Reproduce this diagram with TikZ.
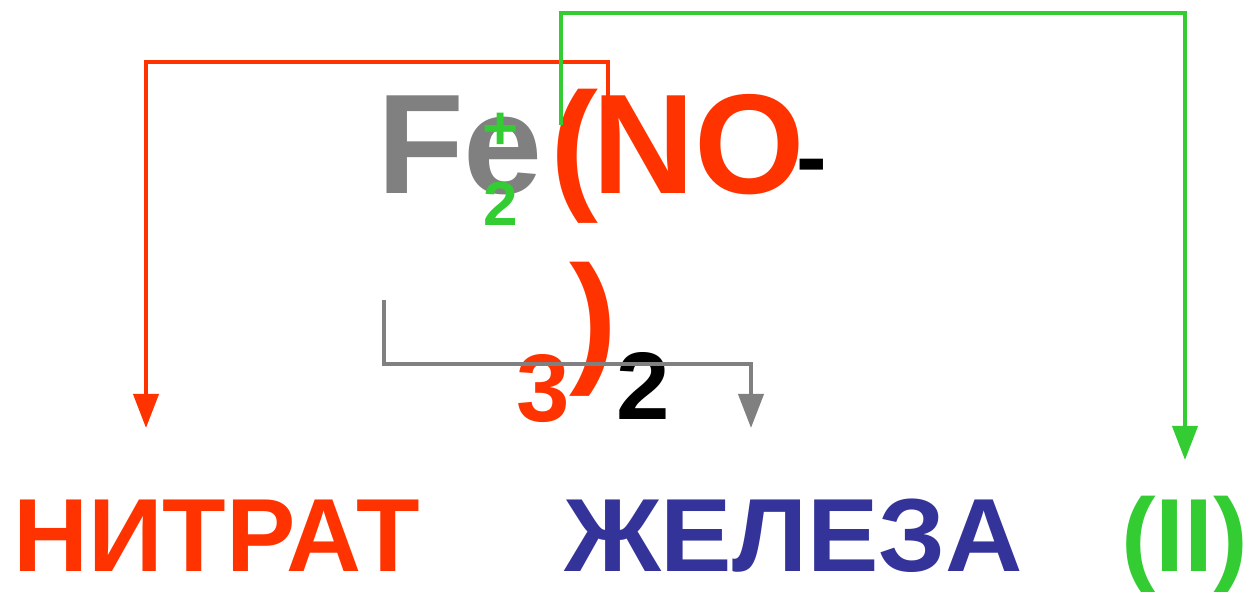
\documentclass[tikz,border=0pt]{standalone}
\usepackage{fontspec}
\setmainfont{Liberation Sans}
\usetikzlibrary{arrows.meta}
\definecolor{cred}{HTML}{FF3300}
\definecolor{cgreen}{HTML}{33CC33}
\definecolor{cgray}{HTML}{808080}
\definecolor{cblue}{HTML}{333399}
\tikzset{
  txt/.style={inner sep=0pt, outer sep=0pt, anchor=base west, font=\bfseries},
  conn/.style={line width=2pt, -{Triangle[width=12.5pt,length=17pt]}},
}
\begin{document}
\begin{tikzpicture}[x=0.5pt,y=-0.5pt]
\path[use as bounding box] (0,0) rectangle (1249,592);
% formula
\node[txt, text=cgray, font=\bfseries\fontsize{71}{71}\selectfont] (fe) at (377,194) {Fe};
\node[txt, text=cred, font=\bfseries\fontsize{72}{72}\selectfont] (lp) at (550,194) {(};
\node[txt, text=cred, font=\bfseries\fontsize{71}{71}\selectfont] (no) at (592,194) {NO};
\node[txt, text=black, font=\bfseries\fontsize{46}{46}\selectfont] (minus) at (796,189) {-};
\node[txt, text=cgreen, font=\bfseries\fontsize{31}{31}\selectfont] (plus) at (482,150) {+};
\node[txt, text=cgreen, font=\bfseries\fontsize{31}{31}\selectfont] (two) at (483,226) {2};
\node[txt, text=cred, font=\bfseries\fontsize{72}{72}\selectfont] (rp) at (569,367) {)};
\node[txt, text=cred, font=\bfseries\fontsize{48}{48}\selectfont] (three) at (516,422) {3};
\node[txt, text=black, font=\bfseries\fontsize{48}{48}\selectfont] (twob) at (616,420) {2};
% labels
\node[txt, text=cred, font=\bfseries\fontsize{52}{52}\selectfont] (nitrat) at (13,572) {НИТРАТ};
\node[txt, text=cblue, font=\bfseries\fontsize{52}{52}\selectfont, xscale=1.03] (zheleza) at (564,572) {ЖЕЛЕЗА};
\node[txt, text=cgreen, font=\bfseries\fontsize{52}{52}\selectfont] (ii) at (1121,572) {(II)};
% connector coordinates
\coordinate (r0) at (608,97);
\coordinate (rtop) at (146,62);
\coordinate (rtip) at (146,428);
\coordinate (g0) at (561,125);
\coordinate (gtop) at (1185,13);
\coordinate (gtip) at (1185,460);
\coordinate (k0) at (384,300);
\coordinate (kbot) at (751,364);
\coordinate (ktip) at (751,428);
\draw[conn, cred] (r0) -- (r0 |- rtop) -- (rtop) -- (rtip);
\draw[conn, cgreen] (g0) -- (g0 |- gtop) -- (gtop) -- (gtip);
\draw[conn, cgray] (k0) -- (k0 |- kbot) -- (kbot) -- (ktip);
\end{tikzpicture}
\end{document}
